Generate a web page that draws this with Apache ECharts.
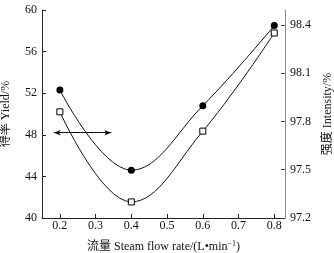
<!DOCTYPE html>
<html>
<head>
<meta charset="utf-8">
<script src="https://cdn.jsdelivr.net/npm/echarts@6/dist/echarts.min.js"></script>
<style>
    html, body { margin: 0; padding: 0; background: #fff; }
    #chart { width: 334px; height: 253px; }
</style>
</head>
<body>
<div id="chart"></div>
<script>
    // data
    const flowRate = [0.2, 0.4, 0.6, 0.8];
    const yieldVals = [52.3, 44.6, 50.8, 58.5];
    const intensityVals = [97.86, 97.30, 97.74, 98.35];
    const xTicks = [0.2, 0.3, 0.4, 0.5, 0.6, 0.7, 0.8];
    const rightTicks = [97.2, 97.5, 97.8, 98.1, 98.4];
    const arrowY = 48.2;
    const arrowX = [0.183, 0.344];

    const font = '"Liberation Serif", "Noto Sans CJK SC", serif';
    let myChart = echarts.init(document.getElementById('chart'));

    let option = {
        animation: false,
        textStyle: {fontFamily: font},
        grid: {left: 42, right: 49, top: 10, bottom: 35, outerBoundsMode: 'none', containLabel: false},
        xAxis: {
            type: 'value',
            min: 0.15,
            max: 0.83,
            name: '流量 Steam flow rate/(L•min{sup|−1})',
            nameLocation: 'middle',
            nameGap: 22,
            nameTextStyle: {
                color: '#111', fontSize: 12, fontFamily: font,
                rich: {sup: {fontSize: 8, verticalAlign: 'top', padding: [0, 0, 6, 0], fontFamily: font}}
            },
            axisLine: {lineStyle: {color: '#222', width: 1}},
            axisTick: {inside: true, length: 4, customValues: xTicks, lineStyle: {color: '#222'}},
            axisLabel: {customValues: xTicks, color: '#111', fontSize: 12, margin: 2, formatter: v => v.toFixed(1)},
            splitLine: {show: false}
        },
        yAxis: [{
            type: 'value',
            min: 40,
            max: 60,
            interval: 4,
            name: '得率 Yield/%',
            nameLocation: 'middle',
            nameRotate: 90,
            nameGap: 30,
            nameTextStyle: {color: '#111', fontSize: 12, fontFamily: font},
            axisLine: {show: true, lineStyle: {color: '#222', width: 1}},
            axisTick: {show: true, inside: true, length: 4, lineStyle: {color: '#222'}},
            axisLabel: {color: '#111', fontSize: 12, margin: 5},
            splitLine: {show: false}
        }, {
            type: 'value',
            position: 'right',
            min: 97.2,
            max: 98.493,
            name: '强度 Intensity/%',
            nameLocation: 'middle',
            nameRotate: 90,
            nameGap: 37,
            nameTextStyle: {color: '#111', fontSize: 12, fontFamily: font},
            axisLine: {show: true, lineStyle: {color: '#888', width: 1}},
            axisTick: {show: true, inside: true, length: 4, customValues: rightTicks, lineStyle: {color: '#444'}},
            axisLabel: {customValues: rightTicks, color: '#111', fontSize: 12, margin: 5, formatter: v => v.toFixed(1)},
            splitLine: {show: false}
        }],
        series: [{
            name: 'Yield',
            type: 'line',
            yAxisIndex: 0,
            smooth: 0.4,
            data: flowRate.map((x, i) => [x, yieldVals[i]]),
            symbol: 'circle',
            symbolSize: 7,
            itemStyle: {color: '#000'},
            lineStyle: {color: '#111', width: 1},
            markLine: {
                silent: true,
                symbol: ['arrow', 'arrow'],
                symbolSize: [4, 7],
                label: {show: false},
                lineStyle: {color: '#111', width: 1, type: 'solid'},
                data: [[{coord: [arrowX[0], arrowY]}, {coord: [arrowX[1], arrowY]}]]
            }
        }, {
            name: 'Intensity',
            type: 'line',
            yAxisIndex: 1,
            smooth: 0.4,
            data: flowRate.map((x, i) => [x, intensityVals[i]]),
            symbol: 'rect',
            symbolSize: 6,
            itemStyle: {color: '#fff', borderColor: '#000', borderWidth: 1},
            lineStyle: {color: '#111', width: 1}
        }]
    };
    myChart.setOption(option);
</script>
</body>
</html>
